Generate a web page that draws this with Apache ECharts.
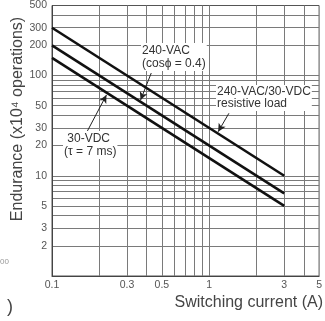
<!DOCTYPE html>
<html><head><meta charset="utf-8">
<script src="https://cdn.jsdelivr.net/npm/echarts@6/dist/echarts.min.js"></script>
<style>html,body{margin:0;padding:0;background:#fff}#c{width:325px;height:321px}</style>
</head><body><div id="c"></div>
<script>
// Data
const currentEnds = [0.1, 3];                 // switching current (A)
const resistiveLoad = [300, 10];              // 240-VAC/30-VDC resistive load (x10^4 ops)
const vacCos04 = [200, 6.67];                 // 240-VAC (cos phi = 0.4)
const vdcTau7 = [150, 5];                     // 30-VDC (tau = 7 ms)

const xTickLabels = [0.1, 0.3, 0.5, 1, 3, 5];
const yTickLabels = [2, 3, 5, 10, 20, 30, 50, 100, 200, 300, 500];
const xGrid = [0.2, 0.3, 0.4, 0.5, 0.6, 0.7, 0.8, 0.9, 1, 2, 3, 4];
const yGrid = [2, 3, 4, 5, 6, 7, 8, 9, 10, 20, 30, 40, 50, 60, 70, 80, 90, 100, 200, 300, 400];

// leader arrows [from, to] in data coordinates
const arrowCos = [[0.428, 106], [0.366, 57]];
const arrowRes = [[1.334, 42], [1.14, 27.5]];
const arrowDc = [[0.168, 28], [0.222, 64]];

const pairs = (ys) => currentEnds.map((x, i) => [x, ys[i]]);
const chart = echarts.init(document.getElementById('c'), null, {renderer: 'canvas'});
const font = 'Liberation Sans, Arial, sans-serif';
const lineStyle = {color: '#111', width: 2.6};
const arrowLine = (a) => ({
  type: 'line', data: [], silent: true,
  markLine: {
    silent: true, symbol: ['none', 'arrow'], symbolSize: [6, 8],
    lineStyle: {color: '#222', width: 1, type: 'solid'}, label: {show: false},
    data: [[{coord: a[0]}, {coord: a[1]}]]
  }
});

chart.setOption({
  animation: false,
  grid: {left: 52, right: 1, top: 4, bottom: 45, show: true, borderColor: '#555', borderWidth: 1},
  xAxis: {
    type: 'log', logBase: 10, min: 0.1, max: 5,
    axisLine: {show: true, lineStyle: {color: '#444', width: 1}},
    axisTick: {show: false, customValues: xGrid},
    axisLabel: {customValues: xTickLabels, color: '#555', fontFamily: font, fontSize: 10.5, margin: 4, showMaxLabel: true, showMinLabel: true},
    splitLine: {show: true, lineStyle: {color: '#7a7a7a', width: 1}},
    minorTick: {show: false}, minorSplitLine: {show: false}
  },
  yAxis: {
    type: 'log', logBase: 10, min: 1, max: 500,
    axisLine: {show: true, lineStyle: {color: '#444', width: 1}},
    axisTick: {show: false, customValues: yGrid},
    axisLabel: {customValues: yTickLabels, color: '#555', fontFamily: font, fontSize: 10.5, margin: 5},
    splitLine: {show: true, lineStyle: {color: '#7a7a7a', width: 1}},
    minorTick: {show: false}, minorSplitLine: {show: false}
  },
  graphic: [
    {type: 'text', x: 18, y: 119, rotation: Math.PI / 2, z: 100, style: {text: 'Endurance (x10\u2074 operations)', font: '16px ' + font, fill: '#444', align: 'center', verticalAlign: 'middle'}},
    {type: 'text', left: 141, top: 43, z: 100, style: {text: '240-VAC\n(cos\u03d5 = 0.4)', font: '12px ' + font, fill: '#333', lineHeight: 13, backgroundColor: '#fff', padding: [1, 1]}},
    {type: 'text', left: 216, top: 85, z: 100, style: {text: '240-VAC/30-VDC\nresistive load', font: '12px ' + font, fill: '#333', lineHeight: 12, backgroundColor: '#fff', padding: [1, 1]}},
    {type: 'text', left: 63, top: 131, z: 100, style: {text: ' 30-VDC\n(\u03c4 = 7 ms)', font: '12px ' + font, fill: '#333', lineHeight: 13, backgroundColor: '#fff', padding: [1, 1]}},
    {type: 'text', right: 2, top: 295, z: 100, style: {text: 'Switching current (A)', font: '16px ' + font, fill: '#444'}},
    {type: 'text', left: 0, top: 258, z: 100, style: {text: '00', font: '8px ' + font, fill: '#999'}},
    {type: 'text', left: 7, top: 298, z: 100, style: {text: ')', font: '18px ' + font, fill: '#444'}}
  ],
  series: [
    {type: 'line', data: pairs(resistiveLoad), symbol: 'none', lineStyle: lineStyle, z: 5},
    {type: 'line', data: pairs(vacCos04), symbol: 'none', lineStyle: lineStyle, z: 5},
    {type: 'line', data: pairs(vdcTau7), symbol: 'none', lineStyle: lineStyle, z: 5},
    arrowLine(arrowCos), arrowLine(arrowRes), arrowLine(arrowDc)
  ]
});
</script></body></html>
